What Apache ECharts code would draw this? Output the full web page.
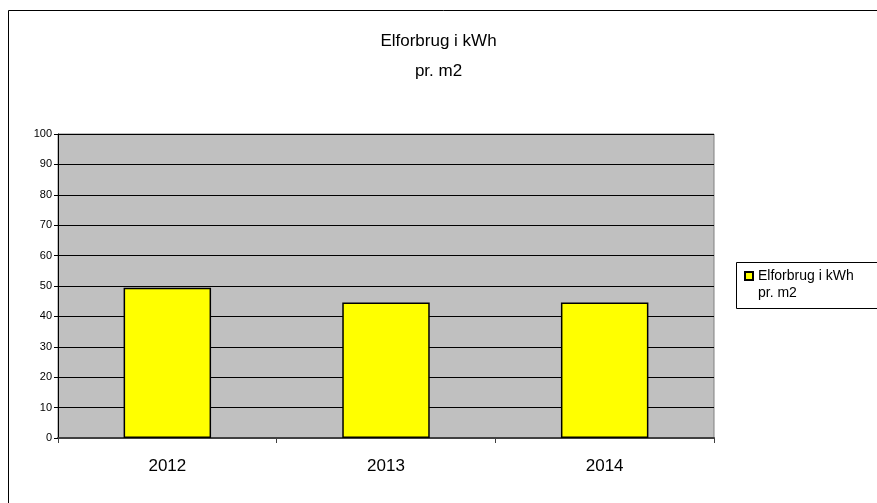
<!DOCTYPE html>
<html>
<head>
<meta charset="utf-8">
<script src="https://cdn.jsdelivr.net/npm/echarts@6/dist/echarts.min.js"></script>
<style>
  html, body { margin: 0; padding: 0; background: #fff; }
  #chart { width: 877px; height: 503px; }
</style>
</head>
<body>
<div id="chart"></div>
<script>
var years = ['2012', '2013', '2014'];
var values = [49.4, 44.6, 44.6];
var yTicks = [0, 100, 10]; // min, max, interval
var seriesName = 'Elforbrug i kWh\npr. m2';

var font = '"Liberation Sans", Arial, sans-serif';

var option = {
  backgroundColor: '#fff',
  animation: false,
  title: {
    text: 'Elforbrug i kWh\npr. m2',
    left: 'center',
    top: 21,
    textStyle: {
      fontFamily: font,
      fontWeight: 'normal',
      fontSize: 17,
      lineHeight: 30,
      color: '#000'
    }
  },
  legend: {
    left: 739,
    top: 264,
    icon: 'rect',
    itemWidth: 8,
    itemHeight: 8,
    itemGap: 0,
    textStyle: {
      fontFamily: font,
      fontSize: 14,
      color: '#000'
    },
    formatter: function (name) {
      return name.split('\n')[0];
    },
    data: [seriesName]
  },
  grid: {
    left: 58,
    right: 163,
    top: 134,
    bottom: 65,
    show: true,
    backgroundColor: '#c0c0c0',
    borderColor: '#808080',
    borderWidth: 1
  },
  xAxis: {
    type: 'category',
    data: years,
    axisLine: { lineStyle: { color: '#404040', width: 2 } },
    axisTick: { show: true, length: 5, lineStyle: { color: '#404040' } },
    axisLabel: {
      fontFamily: font,
      fontSize: 17,
      color: '#000',
      margin: 20
    }
  },
  yAxis: {
    type: 'value',
    min: yTicks[0],
    max: yTicks[1],
    interval: yTicks[2],
    axisLine: { show: true, lineStyle: { color: '#000', width: 1 } },
    axisTick: { show: true, length: 4, lineStyle: { color: '#000' } },
    axisLabel: {
      fontFamily: font,
      fontSize: 11,
      color: '#000',
      margin: 6
    },
    splitLine: { lineStyle: { color: '#000', width: 1 } }
  },
  graphic: [
    {
      type: 'rect',
      shape: { x: 8.5, y: 10.5, width: 900, height: 600 },
      style: { fill: 'none', stroke: '#000', lineWidth: 1 },
      silent: true
    },
    {
      type: 'rect',
      shape: { x: 736.5, y: 262.5, width: 200, height: 46 },
      style: { fill: 'none', stroke: '#000', lineWidth: 1 },
      silent: true
    },
    {
      type: 'text',
      left: 758,
      top: 286,
      style: {
        text: seriesName.split('\n')[1],
        font: '14px ' + font,
        fill: '#000'
      },
      silent: true
    }
  ],
  series: [{
    name: seriesName,
    type: 'bar',
    data: values,
    barWidth: '40%',
    itemStyle: {
      color: '#ffff00',
      borderColor: '#000',
      borderWidth: 1.5
    }
  }]
};

var myChart = echarts.init(document.getElementById('chart'));
myChart.setOption(option);
</script>
</body>
</html>
